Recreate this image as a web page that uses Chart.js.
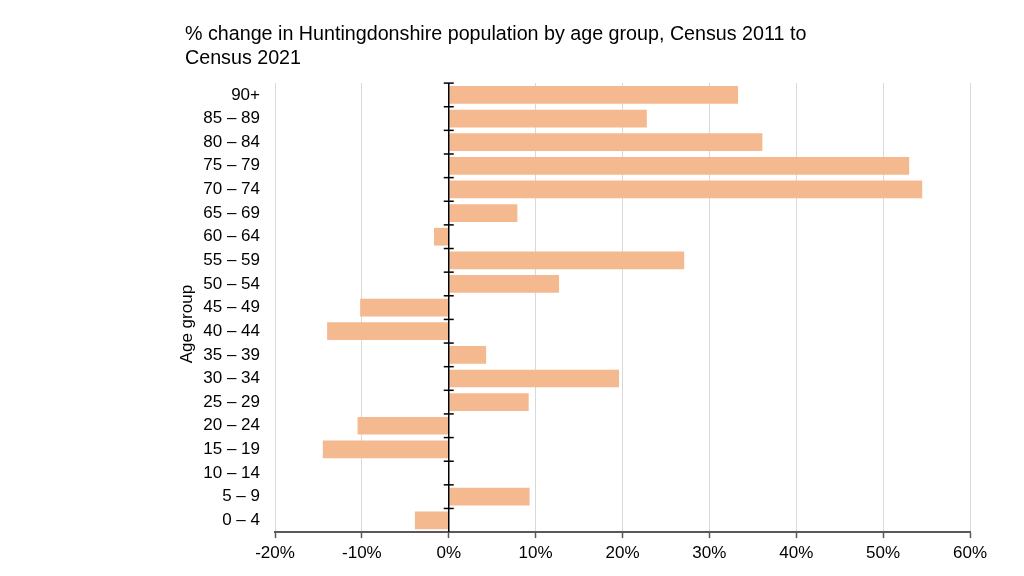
<!DOCTYPE html>
<html>
<head>
<meta charset="utf-8">
<title>Huntingdonshire population change by age group</title>
<script src="https://cdn.jsdelivr.net/npm/chart.js@4/dist/chart.umd.min.js"></script>
<style>
  html, body { margin: 0; padding: 0; background: #fff; }
  #wrap { width: 1024px; height: 576px; position: relative; }
</style>
</head>
<body>
<div id="wrap"><canvas id="chart"></canvas></div>
<script>
// age groups, youngest first (axis is reversed so 90+ sits on top)
const ageGroups = ['0 – 4', '5 – 9', '10 – 14', '15 – 19', '20 – 24', '25 – 29', '30 – 34',
  '35 – 39', '40 – 44', '45 – 49', '50 – 54', '55 – 59', '60 – 64', '65 – 69',
  '70 – 74', '75 – 79', '80 – 84', '85 – 89', '90+'];

// % change 2011 -> 2021
const pctChange = [-3.9, 9.3, 0, -14.5, -10.5, 9.2, 19.6, 4.3, -14.0, -10.2,
  12.7, 27.1, -1.7, 7.9, 54.5, 53.0, 36.1, 22.8, 33.3];

const xMin = -20;
const xMax = 60;
const xStep = 10;

const titleLines = ['% change in Huntingdonshire population by age group, Census 2011 to', 'Census 2021'];
// trailing spaces nudge the rotated title a little below the axis middle, as in the original
const yTitle = 'Age group       ';

const FONT = "'Liberation Sans', Arial, sans-serif";

// black zero line with little cross ticks at each category boundary
const zeroAxis = {
  id: 'zeroAxis',
  afterDatasetsDraw(chart) {
    const { ctx, chartArea, scales: { x, y } } = chart;
    const x0 = x.getPixelForValue(0);
    const half = Math.abs(y.getPixelForValue(1) - y.getPixelForValue(0)) / 2;
    ctx.save();
    ctx.strokeStyle = '#000';
    ctx.lineWidth = 1.5;
    ctx.beginPath();
    ctx.moveTo(x0, chartArea.top);
    ctx.lineTo(x0, chartArea.bottom);
    ctx.stroke();
    ageGroups.forEach((g, i) => {
      const yy = y.getPixelForValue(i) - half;
      ctx.beginPath();
      ctx.moveTo(x0 - 5, yy);
      ctx.lineTo(x0 + 5, yy);
      ctx.stroke();
    });
    ctx.restore();
  }
};

new Chart(document.getElementById('chart'), {
  type: 'bar',
  data: {
    labels: ageGroups,
    datasets: [{
      data: pctChange,
      backgroundColor: '#f4b98f',
      borderWidth: 0,
      barPercentage: 0.75,
      categoryPercentage: 1
    }]
  },
  options: {
    indexAxis: 'y',
    responsive: true,
    maintainAspectRatio: false,
    animation: false,
    devicePixelRatio: 1,
    layout: { padding: { left: 185, right: 54, top: 0, bottom: 7.5 } },
    plugins: {
      legend: { display: false },
      tooltip: { enabled: false },
      title: {
        display: true,
        text: titleLines,
        align: 'start',
        color: '#000',
        font: { family: FONT, size: 19.7, weight: 'normal', lineHeight: 1.17 },
        padding: { top: 23.5, bottom: 13.5 }
      }
    },
    scales: {
      x: {
        min: xMin,
        max: xMax,
        ticks: {
          stepSize: xStep,
          color: '#000',
          padding: 5,
          font: { family: FONT, size: 17 },
          callback: v => v + '%'
        },
        grid: {
          color: ctx => ctx.tick && ctx.tick.value === 0 ? '#000' : '#d9d9d9',
          lineWidth: 1,
          tickLength: 6,
          tickColor: '#595959',
          tickWidth: 1.5
        },
        border: { display: true, color: '#595959', width: 2 }
      },
      y: {
        reverse: true,
        ticks: {
          color: '#000',
          padding: 7,
          autoSkip: false,
          font: { family: FONT, size: 17 }
        },
        grid: { display: false },
        border: { display: false },
        title: {
          display: true,
          text: yTitle,
          color: '#000',
          font: { family: FONT, size: 17 },
          padding: { top: -8, bottom: 8 }
        },
        afterFit(scale) { scale.width = 90; }
      }
    }
  },
  plugins: [zeroAxis]
});
</script>
</body>
</html>
